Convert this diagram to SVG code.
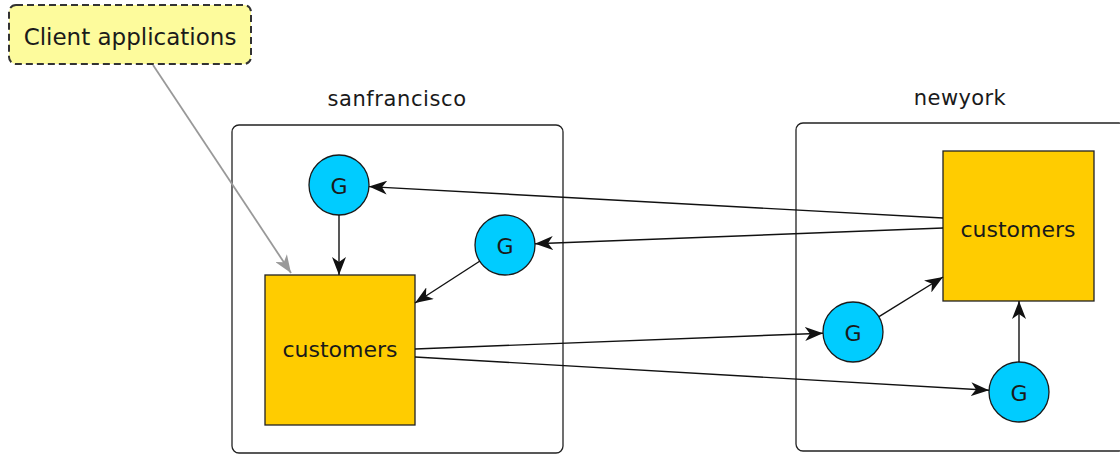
<svg xmlns="http://www.w3.org/2000/svg" width="1120" height="455" viewBox="0 0 1120 455">
  <style>
    .lbl { font-family: "DejaVu Sans", "Liberation Sans", sans-serif; fill: #1a1a1a; text-anchor: middle; }
    .container { fill: #ffffff; stroke: #222222; stroke-width: 1.3; }
    .store { fill: #ffcc00; stroke: #222222; stroke-width: 1.3; }
    .gw { fill: #00ccff; stroke: #1a1a1a; stroke-width: 1.3; }
    .edge { fill: none; stroke: #111111; stroke-width: 1.4; }
    .edge-gray { fill: none; stroke: #999999; stroke-width: 1.8; }
  </style>
  <defs>
    <marker id="arr" viewBox="0 0 18 14" markerWidth="18" markerHeight="14" refX="18" refY="7" orient="auto" markerUnits="userSpaceOnUse">
      <path d="M0,0 L18,7 L0,14 L5,7 z" fill="#111111"/>
    </marker>
    <marker id="arrg" viewBox="0 0 18 14" markerWidth="18" markerHeight="14" refX="18" refY="7" orient="auto" markerUnits="userSpaceOnUse">
      <path d="M0,0 L18,7 L0,14 L5,7 z" fill="#999999"/>
    </marker>
  </defs>
  <rect width="1120" height="455" fill="#ffffff"/>

  <g id="sanfrancisco">
    <rect class="container" x="232" y="125" width="331" height="328" rx="7"/>
    <text class="lbl" x="397" y="106" font-size="21" letter-spacing="0.6">sanfrancisco</text>
  </g>
  <g id="newyork">
    <rect class="container" x="796" y="123" width="330" height="328" rx="7"/>
    <text class="lbl" x="960" y="105" font-size="21" letter-spacing="0.4">newyork</text>
  </g>

  <g id="client-applications">
    <rect x="9" y="5" width="242" height="59" rx="7" fill="#fdfb9c" stroke="#333333" stroke-width="2" stroke-dasharray="7,4"/>
    <text class="lbl" x="130" y="45" font-size="23">Client applications</text>
  </g>

  <g id="sf-customers">
    <rect class="store" x="265" y="275" width="150" height="150"/>
    <text class="lbl" x="340" y="357" font-size="22">customers</text>
  </g>
  <g id="sf-g1">
    <circle class="gw" cx="339" cy="185" r="30"/>
    <text class="lbl" x="339" y="194" font-size="22">G</text>
  </g>
  <g id="sf-g2">
    <circle class="gw" cx="505" cy="245" r="30"/>
    <text class="lbl" x="505" y="254" font-size="22">G</text>
  </g>

  <g id="ny-customers">
    <rect class="store" x="943" y="151" width="151" height="150"/>
    <text class="lbl" x="1018" y="237" font-size="22">customers</text>
  </g>
  <g id="ny-g3">
    <circle class="gw" cx="853" cy="332" r="30"/>
    <text class="lbl" x="853" y="341" font-size="22">G</text>
  </g>
  <g id="ny-g4">
    <circle class="gw" cx="1019" cy="392" r="30"/>
    <text class="lbl" x="1019" y="401" font-size="22">G</text>
  </g>

  <g id="connectors">
    <line class="edge-gray" x1="153" y1="65" x2="291" y2="273" marker-end="url(#arrg)"/>
    <line class="edge" x1="339" y1="215" x2="339" y2="275" marker-end="url(#arr)"/>
    <line class="edge" x1="480" y1="261" x2="415" y2="303" marker-end="url(#arr)"/>
    <line class="edge" x1="943" y1="218" x2="369" y2="186.6" marker-end="url(#arr)"/>
    <line class="edge" x1="943" y1="228" x2="535" y2="243.8" marker-end="url(#arr)"/>
    <line class="edge" x1="415" y1="349" x2="823" y2="333.2" marker-end="url(#arr)"/>
    <line class="edge" x1="415" y1="357" x2="989" y2="390.3" marker-end="url(#arr)"/>
    <line class="edge" x1="879" y1="316.6" x2="943" y2="277" marker-end="url(#arr)"/>
    <line class="edge" x1="1019" y1="362" x2="1019" y2="301" marker-end="url(#arr)"/>
  </g>
</svg>
